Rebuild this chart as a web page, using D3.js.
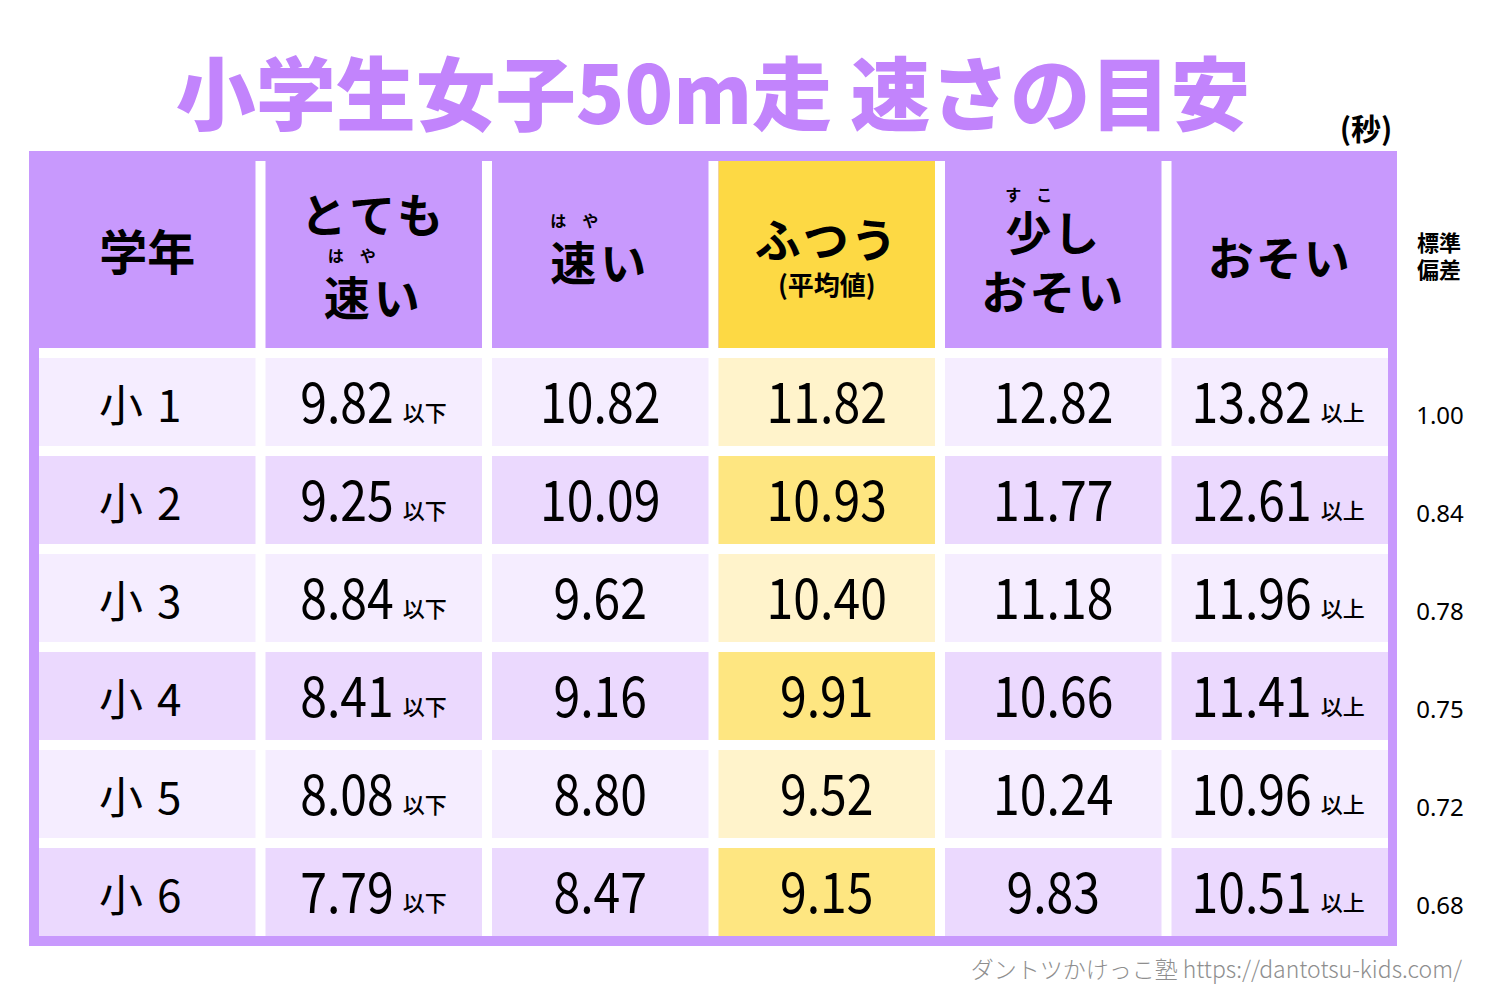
<!DOCTYPE html>
<html>
<head>
<meta charset="utf-8">
<script src="https://cdn.jsdelivr.net/npm/d3@7"></script>
<style>
  body { margin: 0; background: #fff; }
  svg { display: block; font-family: "Noto Sans CJK JP", "Noto Sans", sans-serif; }
</style>
</head>
<body>
<div id="chart"><svg width="1500" height="1000"></svg></div>
<script>
// 表のデータ
const grades = ['小 1', '小 2', '小 3', '小 4', '小 5', '小 6'];
const veryFast = [9.82, 9.25, 8.84, 8.41, 8.08, 7.79];
const fast = [10.82, 10.09, 9.62, 9.16, 8.80, 8.47];
const average = [11.82, 10.93, 10.40, 9.91, 9.52, 9.15];
const slightlySlow = [12.82, 11.77, 11.18, 10.66, 10.24, 9.83];
const slow = [13.82, 12.61, 11.96, 11.41, 10.96, 10.51];
const stdDev = [1.00, 0.84, 0.78, 0.75, 0.72, 0.68];
const columns = ['学年', 'とても速い', '速い', 'ふつう', '少しおそい', 'おそい'];

const purple = '#c899fd';
const titleColor = '#c284fc';
const rowLight = '#f5edff';
const rowDark = '#ebd9fe';
const yellowHead = '#fdd944';
const yellowLight = '#fff3cb';
const yellowDark = '#fee681';

const svg = d3.select('#chart svg');
const fmt = d3.format('.2f');

const x = d3.scaleBand().domain(columns).range([39, 1398]).paddingInner(0).paddingOuter(0);
const gap = 10;
const y = d3.scaleBand().domain(grades).range([358, 946]);
const bw = x.bandwidth() - gap;   // セル幅
const bh = y.bandwidth() - gap;   // セル高さ

// タイトル
svg.append('text')
    .attr('x', 713).attr('y', 124)
    .attr('text-anchor', 'middle')
    .attr('font-size', 80).attr('font-weight', 900)
    .attr('fill', titleColor)
    .text('小学生女子50m走 速さの目安');

svg.append('text')
    .attr('x', 1366).attr('y', 140)
    .attr('text-anchor', 'middle')
    .attr('font-size', 30).attr('font-weight', 700)
    .text('(秒)');

// 枠
svg.append('rect')
    .attr('x', 29).attr('y', 151)
    .attr('width', 1368).attr('height', 795)
    .attr('fill', purple);
svg.append('rect')
    .attr('x', 39).attr('y', 348)
    .attr('width', 1349).attr('height', 588)
    .attr('fill', '#fff');

// ヘッダー
const gHead = svg.append('g');
columns.forEach((c, i) => {
    if (i > 0) {
        gHead.append('rect')
            .attr('x', x(c) - gap).attr('y', 161)
            .attr('width', gap).attr('height', 187)
            .attr('fill', '#fff');
    }
});
gHead.append('rect')
    .attr('x', x('ふつう')).attr('y', 161)
    .attr('width', bw).attr('height', 187)
    .attr('fill', yellowHead);

function headText(col, yy, txt, size, weight, ls) {
    gHead.append('text')
        .attr('x', x(col) + bw / 2).attr('y', yy)
        .attr('text-anchor', 'middle')
        .attr('font-size', size).attr('font-weight', weight || 700)
        .attr('letter-spacing', ls || 0)
        .text(txt);
}
function ruby(col, dx, yy, chars, step) {
    chars.forEach((ch, k) => {
        gHead.append('text')
            .attr('x', x(col) + bw / 2 + dx + k * step).attr('y', yy)
            .attr('text-anchor', 'middle')
            .attr('font-size', 16).attr('font-weight', 700)
            .text(ch);
    });
}
headText('学年', 270, '学年', 48, 700, 0);
headText('とても速い', 232, 'とても', 46, 700, 4);
ruby('とても速い', -38, 262, ['は', 'や'], 32);
headText('とても速い', 315, '速い', 46, 700, 4);
ruby('速い', -42, 227, ['は', 'や'], 32);
headText('速い', 280, '速い', 46, 700, 4);
headText('ふつう', 257, 'ふつう', 46, 700, 2);
headText('ふつう', 295, '(平均値)', 26, 700, 0);
ruby('少しおそい', -40, 201, ['す', 'こ'], 31);
headText('少しおそい', 250, '少し', 46, 700, 2);
headText('少しおそい', 309, 'おそい', 46, 700, 2);
headText('おそい', 275, 'おそい', 46, 700, 2);

svg.append('text')
    .attr('x', 1439).attr('y', 251)
    .attr('text-anchor', 'middle')
    .attr('font-size', 22).attr('font-weight', 700)
    .text('標準');
svg.append('text')
    .attr('x', 1439).attr('y', 278)
    .attr('text-anchor', 'middle')
    .attr('font-size', 22).attr('font-weight', 700)
    .text('偏差');

// 本体セル
const series = [grades, veryFast, fast, average, slightlySlow, slow];
const gBody = svg.append('g');
grades.forEach((g, r) => {
    const odd = r % 2 === 0;
    columns.forEach((c, ci) => {
        let fill = odd ? rowLight : rowDark;
        if (c === 'ふつう') fill = odd ? yellowLight : yellowDark;
        gBody.append('rect')
            .attr('x', x(c)).attr('y', y(g))
            .attr('width', bw).attr('height', bh)
            .attr('fill', fill);
    });
});

function numText(cx, cy, txt, anchor) {
    gBody.append('text')
        .attr('transform', `translate(${cx},${cy}) scale(0.86,1)`)
        .attr('text-anchor', anchor)
        .attr('font-size', 56).attr('font-weight', 400)
        .text(txt);
}
grades.forEach((g, r) => {
    const cy = y(g) + bh / 2 + 21;
    // 学年
    gBody.append('text')
        .attr('x', x('学年') + bw / 2 - 6).attr('y', cy - 1)
        .attr('text-anchor', 'middle')
        .attr('font-size', 44).attr('font-weight', 400)
        .attr('letter-spacing', 2)
        .text(g);
    // 数値
    [1, 2, 3, 4, 5].forEach(ci => {
        const c = columns[ci];
        const v = fmt(series[ci][r]);
        const mid = x(c) + bw / 2;
        if (ci === 1 || ci === 5) {
            const endX = mid + (ci === 1 ? 20 : 32);
            numText(endX, cy, v, 'end');
            gBody.append('text')
                .attr('x', endX + 9).attr('y', cy - 2)
                .attr('font-size', 22).attr('font-weight', 500)
                .text(ci === 1 ? '以下' : '以上');
        } else {
            numText(mid, cy, v, 'middle');
        }
    });
    // 標準偏差
    svg.append('text')
        .attr('x', 1440).attr('y', y(g) + bh / 2 + 22)
        .attr('text-anchor', 'middle')
        .attr('font-family', 'Noto Sans')
        .attr('font-size', 24)
        .text(fmt(stdDev[r]));
});

// 出典
svg.append('text')
    .attr('x', 1462).attr('y', 978)
    .attr('text-anchor', 'end')
    .attr('font-size', 23).attr('font-weight', 300)
    .attr('fill', '#8e8e8e')
    .text('ダントツかけっこ塾 https://dantotsu-kids.com/');
</script>
</body>
</html>
